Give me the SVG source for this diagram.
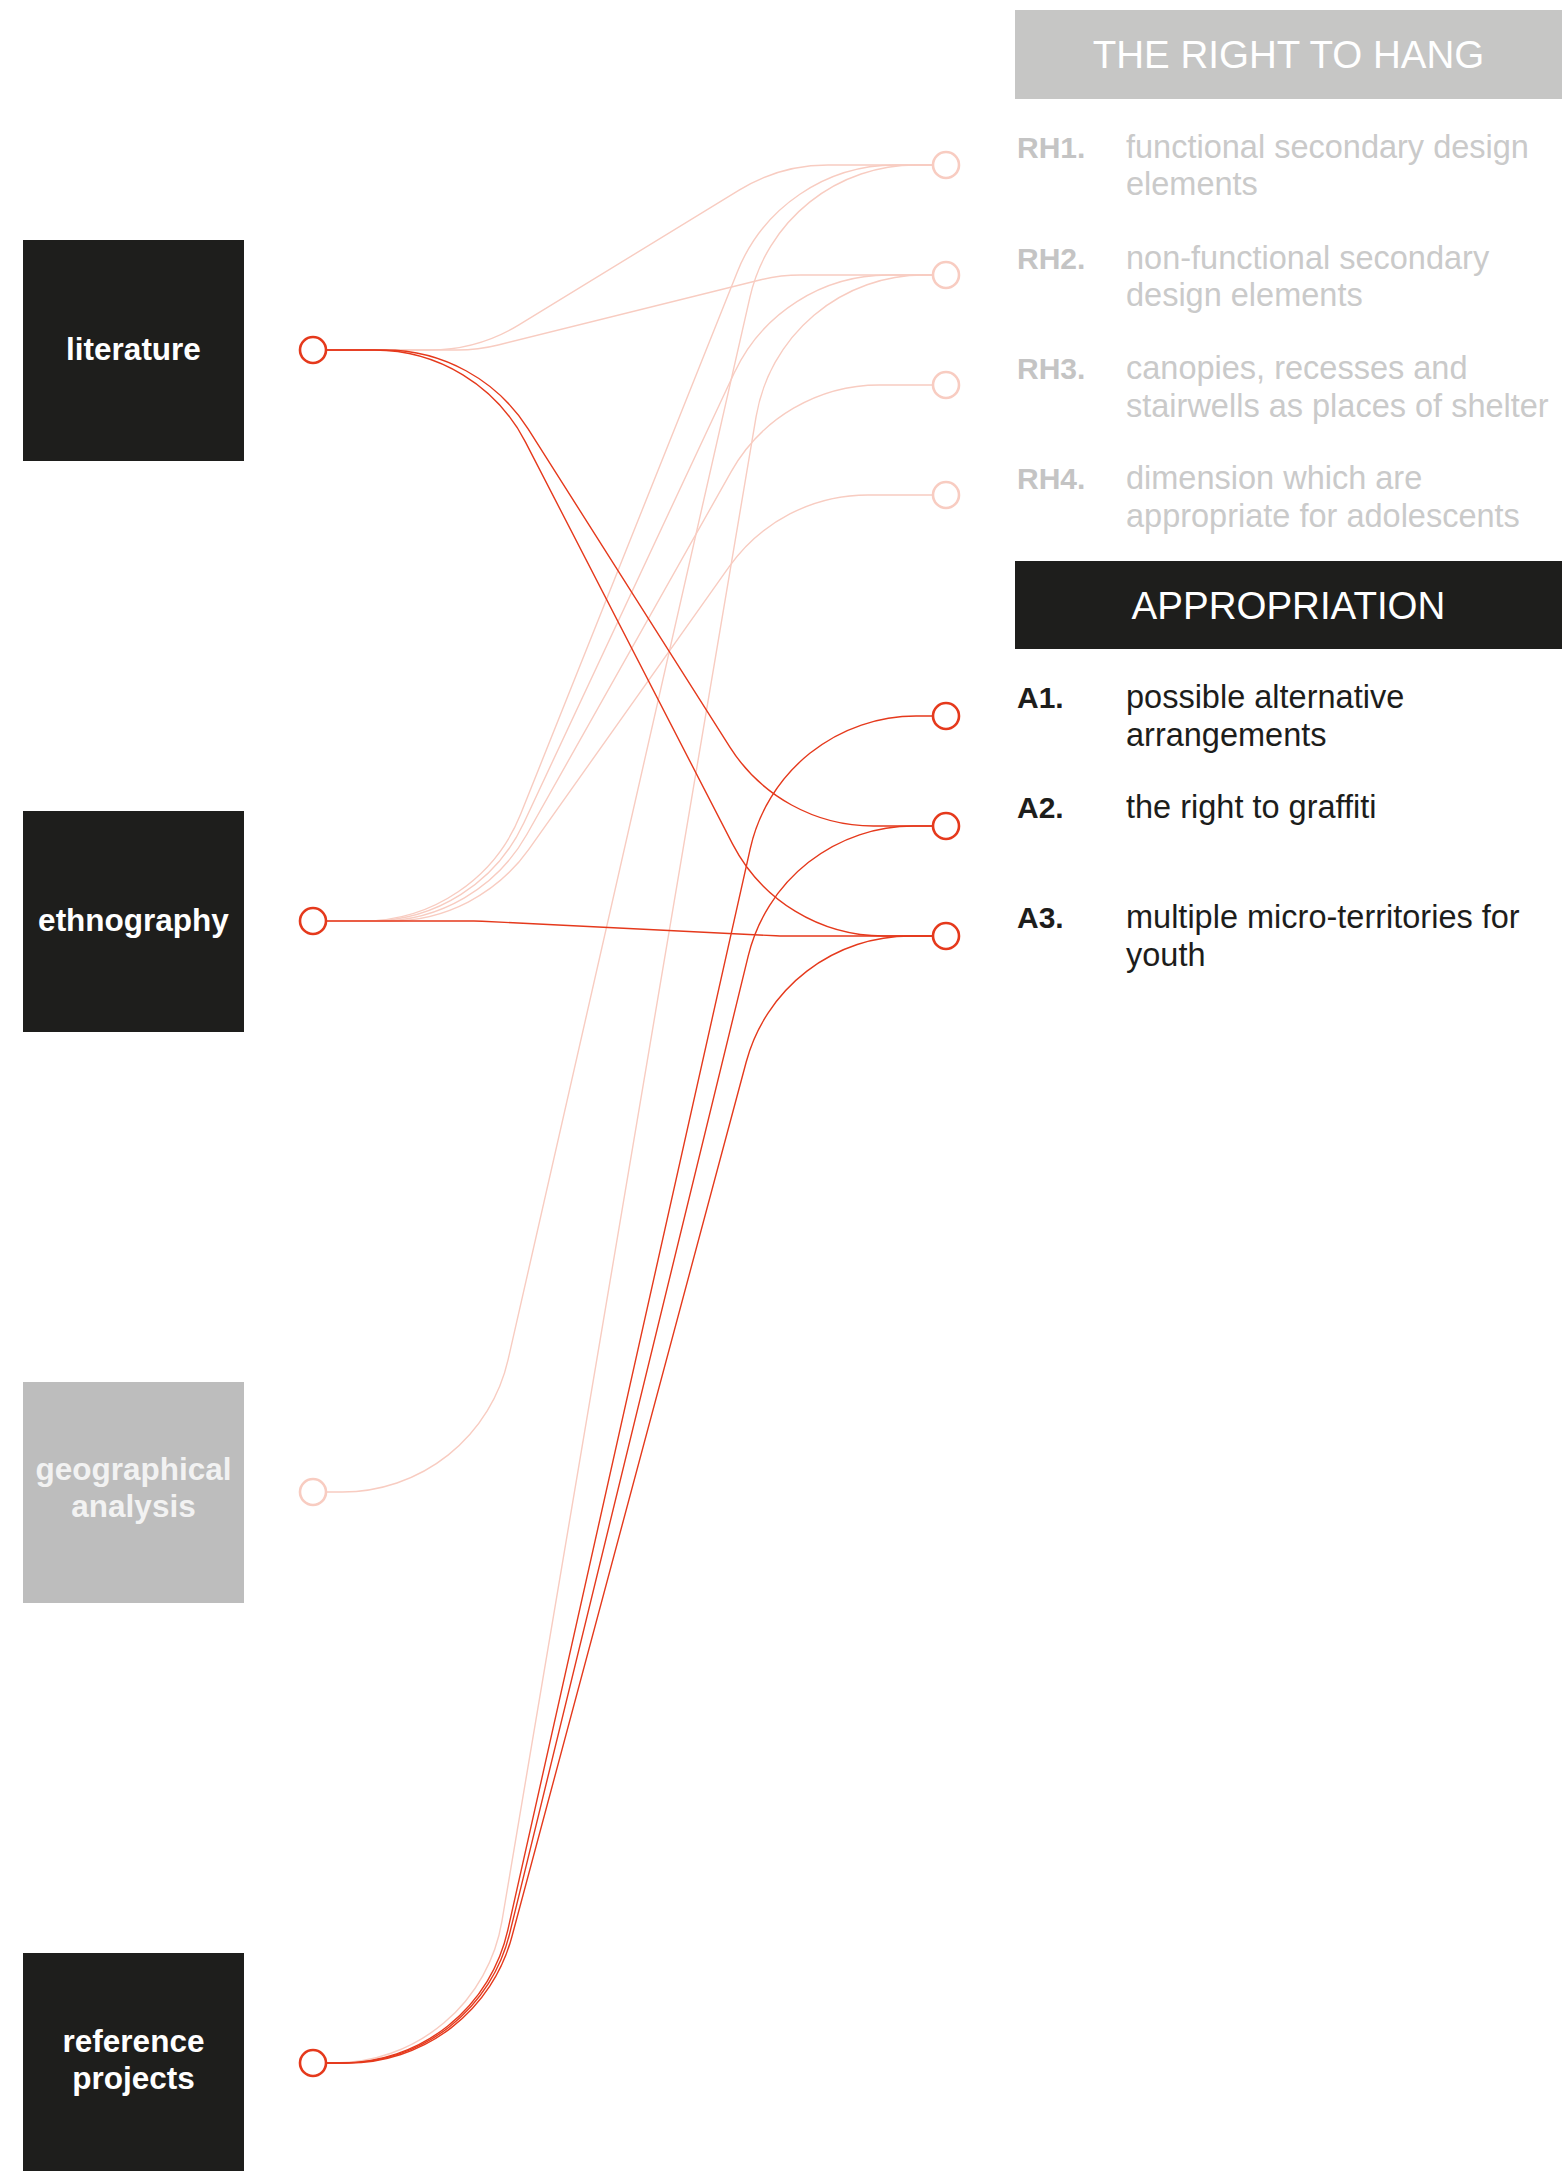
<svg xmlns="http://www.w3.org/2000/svg" width="1562" height="2171" viewBox="0 0 1562 2171">
<style>
.box{fill:#1e1e1c}
.boxg{fill:#bdbdbd}
.bt{font-family:"Liberation Sans",Arial,Helvetica,sans-serif;font-weight:bold;font-size:31.5px;fill:#ffffff;text-anchor:middle}
.bt2{font-family:"Liberation Sans",Arial,Helvetica,sans-serif;font-weight:bold;font-size:31.5px;fill:#f2f2f2;text-anchor:middle}
.ht{font-family:"Liberation Sans",Arial,Helvetica,sans-serif;font-size:38.5px;fill:#ffffff;text-anchor:middle}
.lblg{font-family:"Liberation Sans",Arial,Helvetica,sans-serif;font-weight:bold;font-size:30px;fill:#c4c4c4}
.dg{font-family:"Liberation Sans",Arial,Helvetica,sans-serif;font-size:32.5px;fill:#cacaca}
.lbl{font-family:"Liberation Sans",Arial,Helvetica,sans-serif;font-weight:bold;font-size:30px;fill:#1d1d1b}
.d{font-family:"Liberation Sans",Arial,Helvetica,sans-serif;font-size:32.5px;fill:#1d1d1b}
.ln{fill:none;stroke:#f8ccc1;stroke-width:1.4}
.dk{fill:none;stroke:#e5391c;stroke-width:1.4}
.c{fill:#ffffff;stroke:#e5391c;stroke-width:2.6}
.cl{fill:#ffffff;stroke:#f8ccc1;stroke-width:2.6}
</style>

<g id="connectors">
<path class="ln" d="M326 350 H430 A170 170 0 0 0 518.9 324.9 L739.1 190.1 A170 170 0 0 1 828 165 H933"/>
<path class="ln" d="M326 350 H457.2 A170 170 0 0 0 498.2 345 L759.8 280 A170 170 0 0 1 800.8 275 H933"/>
<path class="ln" d="M326 921 H362.9 A170 170 0 0 0 520.7 814.1 L737.3 271.9 A170 170 0 0 1 895.2 165 H933"/>
<path class="ln" d="M326 921 H369.8 A170 170 0 0 0 523.8 823 L734.2 373 A170 170 0 0 1 888.2 275 H933"/>
<path class="ln" d="M326 921 H378.7 A170 170 0 0 0 526.8 834.5 L731.2 471.6 A170 170 0 0 1 879.4 385 H933"/>
<path class="ln" d="M326 921 H390.1 A170 170 0 0 0 528.8 849.3 L729.2 566.7 A170 170 0 0 1 867.9 495 H933"/>
<path class="ln" d="M326 1492 H342.3 A170 170 0 0 0 508.1 1359.7 L749.9 297.3 A170 170 0 0 1 915.7 165 H933"/>
<path class="ln" d="M326 2063 H334.3 A170 170 0 0 0 501.9 1921.3 L756.1 416.7 A170 170 0 0 1 923.7 275 H933"/>
<path class="dk" d="M326 350 H384.5 A170 170 0 0 1 528.1 428.9 L729.9 747.1 A170 170 0 0 0 873.5 826 H933"/>
<path class="dk" d="M326 350 H374.4 A170 170 0 0 1 525.5 442.1 L732.5 843.9 A170 170 0 0 0 883.6 936 H933"/>
<path class="dk" d="M326 921 H473.8 A170 170 0 0 1 482.2 921.2 L775.8 935.8 A170 170 0 0 0 784.2 936 H933"/>
<path class="dk" d="M326 2063 H341.9 A170 170 0 0 0 507.8 1930.2 L750.2 848.8 A170 170 0 0 1 916.1 716 H933"/>
<path class="dk" d="M326 2063 H344.5 A170 170 0 0 0 509.7 1933.3 L748.3 955.7 A170 170 0 0 1 913.5 826 H933"/>
<path class="dk" d="M326 2063 H347.6 A170 170 0 0 0 511.8 1937 L746.2 1062 A170 170 0 0 1 910.4 936 H933"/>
</g>

<g id="literature">
<rect class="box" x="23" y="240" width="221" height="221"/>
<text class="bt" x="133.5" y="359.5">literature</text>
<circle class="c" cx="313" cy="350" r="13"/>
</g>

<g id="ethnography">
<rect class="box" x="23" y="811" width="221" height="221"/>
<text class="bt" x="133.5" y="930.5">ethnography</text>
<circle class="c" cx="313" cy="921" r="13"/>
</g>

<g id="geographical-analysis">
<rect class="boxg" x="23" y="1382" width="221" height="221"/>
<text class="bt2" x="133.5" y="1480">geographical</text>
<text class="bt2" x="133.5" y="1517">analysis</text>
<circle class="cl" cx="313" cy="1492" r="13"/>
</g>

<g id="reference-projects">
<rect class="box" x="23" y="1953" width="221" height="221"/>
<text class="bt" x="133.5" y="2052">reference</text>
<text class="bt" x="133.5" y="2089">projects</text>
<circle class="c" cx="313" cy="2063" r="13"/>
</g>

<g id="right-to-hang-header">
<rect x="1015" y="10" width="547" height="89" fill="#c6c6c5"/>
<text class="ht" x="1288.5" y="67.5">THE RIGHT TO HANG</text>
</g>

<g id="RH1">
<circle class="cl" cx="946" cy="165" r="13"/>
<text class="lblg" x="1017" y="157.5">RH1.</text>
<text class="dg" x="1126" y="157.5">functional secondary design</text>
<text class="dg" x="1126" y="195">elements</text>
</g>
<g id="RH2">
<circle class="cl" cx="946" cy="275" r="13"/>
<text class="lblg" x="1017" y="268.5">RH2.</text>
<text class="dg" x="1126" y="268.5">non-functional secondary</text>
<text class="dg" x="1126" y="306">design elements</text>
</g>
<g id="RH3">
<circle class="cl" cx="946" cy="385" r="13"/>
<text class="lblg" x="1017" y="379">RH3.</text>
<text class="dg" x="1126" y="379">canopies, recesses and</text>
<text class="dg" x="1126" y="417">stairwells as places of shelter</text>
</g>
<g id="RH4">
<circle class="cl" cx="946" cy="495" r="13"/>
<text class="lblg" x="1017" y="489">RH4.</text>
<text class="dg" x="1126" y="489">dimension which are</text>
<text class="dg" x="1126" y="527">appropriate for adolescents</text>
</g>

<g id="appropriation-header">
<rect x="1015" y="561" width="547" height="88" fill="#1e1e1c"/>
<text class="ht" x="1288.5" y="618.5">APPROPRIATION</text>
</g>

<g id="A1">
<circle class="c" cx="946" cy="716" r="13"/>
<text class="lbl" x="1017" y="708">A1.</text>
<text class="d" x="1126" y="708">possible alternative</text>
<text class="d" x="1126" y="745.5">arrangements</text>
</g>
<g id="A2">
<circle class="c" cx="946" cy="826" r="13"/>
<text class="lbl" x="1017" y="818">A2.</text>
<text class="d" x="1126" y="818">the right to graffiti</text>
</g>
<g id="A3">
<circle class="c" cx="946" cy="936" r="13"/>
<text class="lbl" x="1017" y="928">A3.</text>
<text class="d" x="1126" y="928">multiple micro-territories for</text>
<text class="d" x="1126" y="966">youth</text>
</g>
</svg>
